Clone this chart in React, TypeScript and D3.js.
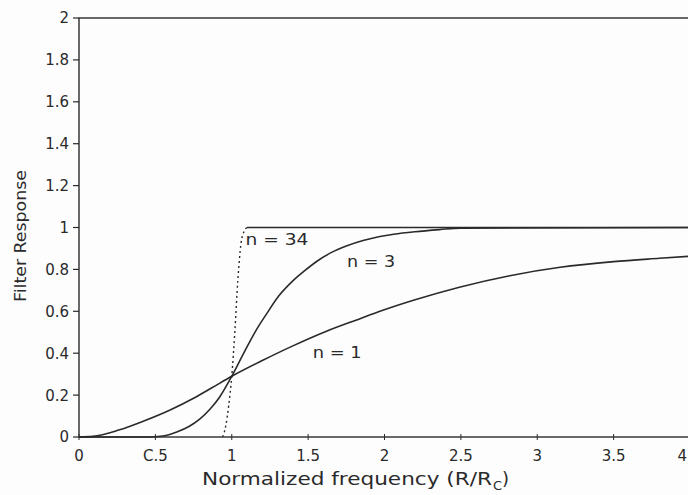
import React from "react";
import * as d3 from "d3";

// Filter response curves for orders n = 1, 3 and 34
const n1X = [0, 0.09, 0.26, 0.42, 0.6, 0.75, 0.87, 1.0, 1.2, 1.4, 1.62, 1.84, 1.97, 2.2, 2.49, 2.82, 3.15, 3.5, 3.8, 4.0];
const n1Y = [0, 0.003, 0.033, 0.075, 0.13, 0.185, 0.235, 0.29, 0.365, 0.435, 0.505, 0.565, 0.6, 0.655, 0.715, 0.77, 0.81, 0.837, 0.853, 0.863];

const n3X = [0, 0.45, 0.55, 0.64, 0.72, 0.79, 0.86, 0.92, 1.0, 1.05, 1.1, 1.16, 1.23, 1.31, 1.4, 1.48, 1.56, 1.65, 1.75, 1.86, 1.97, 2.06, 2.2, 2.36, 2.5, 4.0];
const n3Y = [0, 0, 0.005, 0.024, 0.05, 0.085, 0.135, 0.19, 0.29, 0.36, 0.43, 0.51, 0.59, 0.675, 0.745, 0.795, 0.84, 0.88, 0.912, 0.938, 0.957, 0.968, 0.98, 0.99, 0.997, 1.0];

// steep transition of the n = 34 curve, then its flat pass band
const n34StepX = [0.94, 0.96, 0.98, 1.0, 1.02, 1.04, 1.06, 1.08, 1.1];
const n34StepY = [0, 0.05, 0.15, 0.29, 0.5, 0.75, 0.92, 0.98, 1.0];
const n34FlatX = [1.1, 4.0];
const n34FlatY = [1.0, 1.0];

const xTicks = [0, 0.5, 1, 1.5, 2, 2.5, 3, 3.5, 4];
const xTickLabels = ["0", "C.5", "1", "1.5", "2", "2.5", "3", "3.5", "4"];
const yTicks = [0, 0.2, 0.4, 0.6, 0.8, 1, 1.2, 1.4, 1.6, 1.8, 2];
const yTickLabels = ["0", "0.2", "0.4", "0.6", "0.8", "1", "1.2", "1.4", "1.6", "1.8", "2"];

const curveLabels = [
  { text: "n = 34", x: 1.09, y: 0.915, len: 63 },
  { text: "n = 3", x: 1.755, y: 0.81, len: 48 },
  { text: "n = 1", x: 1.53, y: 0.375, len: 49 },
];

const W = 688;
const H = 495;
const FONT = "'DejaVu Sans', sans-serif";
const INK = "#2a2a2a";

export default function App() {
  const x = d3.scaleLinear().domain([0, 4]).range([79, 690]);
  const y = d3.scaleLinear().domain([0, 2]).range([437, 18]);

  const line = d3
    .line<[number, number]>()
    .x((d) => x(d[0]))
    .y((d) => y(d[1]))
    .curve(d3.curveMonotoneX);

  const zip = (xs: number[], ys: number[]) => xs.map((v, i) => [v, ys[i]] as [number, number]);

  return (
    <svg
      width={W}
      height={H}
      style={{ position: "absolute", left: 0, top: 0, background: "#fdfdfd" }}
      fontFamily={FONT}
    >
      {/* plot frame */}
      <rect x={x(0)} y={y(2)} width={x(4) - x(0)} height={y(0) - y(2)} fill="none" stroke={INK} strokeWidth={1.4} />

      {/* y axis ticks and labels */}
      {yTicks.map((t, i) => (
        <g key={"y" + t}>
          <line x1={x(0) - 6} x2={x(0)} y1={y(t)} y2={y(t)} stroke={INK} strokeWidth={1.2} />
          <text x={x(0) - 10} y={y(t)} dy="0.36em" textAnchor="end" fontSize={15} fill={INK}>
            {yTickLabels[i]}
          </text>
        </g>
      ))}

      {/* x axis ticks and labels */}
      {xTicks.map((t, i) => (
        <g key={"x" + t}>
          <line x1={x(t)} x2={x(t)} y1={y(0) - 3} y2={y(0) + 3} stroke={INK} strokeWidth={1} />
          <text
            x={t === 4 ? W - 1 : x(t)}
            y={461}
            textAnchor={t === 4 ? "end" : "middle"}
            fontSize={15}
            fill={INK}
          >
            {xTickLabels[i]}
          </text>
        </g>
      ))}

      {/* axis titles */}
      <text x={202} y={485} fontSize={18} fill={INK} textLength={290} lengthAdjust="spacingAndGlyphs">
        Normalized frequency (R/R
      </text>
      <text x={493} y={490} fontSize={13} fill={INK}>C</text>
      <text x={502} y={485} fontSize={18} fill={INK}>)</text>
      <text
        transform={`translate(26,236) rotate(-90)`}
        textAnchor="middle"
        fontSize={15}
        fill={INK}
        textLength={132}
        lengthAdjust="spacingAndGlyphs"
      >
        Filter Response
      </text>

      {/* curves */}
      <path d={line(zip(n1X, n1Y)) || ""} fill="none" stroke={INK} strokeWidth={1.6} />
      <path d={line(zip(n3X, n3Y)) || ""} fill="none" stroke={INK} strokeWidth={1.6} />
      <path d={line(zip(n34FlatX, n34FlatY)) || ""} fill="none" stroke={INK} strokeWidth={1.6} />
      <path
        d={line(zip(n34StepX, n34StepY)) || ""}
        fill="none"
        stroke={INK}
        strokeWidth={1.4}
        strokeDasharray="2,3"
      />

      {/* curve labels */}
      {curveLabels.map((l) => (
        <text
          key={l.text}
          x={x(l.x)}
          y={y(l.y)}
          fontSize={15}
          fill={INK}
          textLength={l.len}
          lengthAdjust="spacingAndGlyphs"
        >
          {l.text}
        </text>
      ))}
    </svg>
  );
}
